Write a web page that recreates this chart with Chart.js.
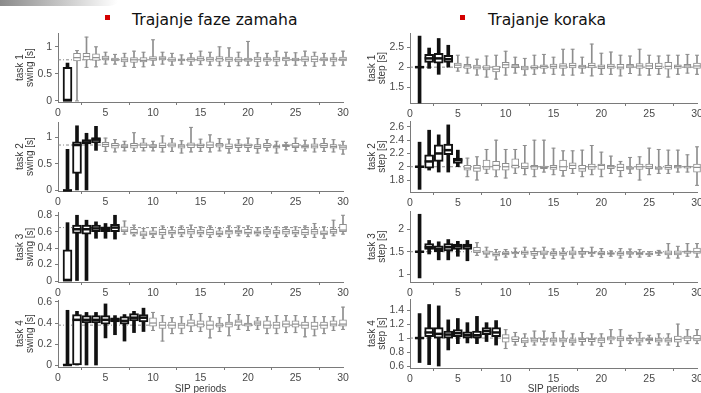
<!DOCTYPE html>
<html><head><meta charset="utf-8">
<script src="https://cdn.jsdelivr.net/npm/chart.js@4.4.0/dist/chart.umd.min.js"></script>
<style>
html,body{margin:0;padding:0;width:701px;height:393px;overflow:hidden;background:#fff;}
.cv{position:absolute;}
.title{position:absolute;font-family:"DejaVu Sans",sans-serif;font-size:15.6px;line-height:18px;color:#111;top:11px;white-space:nowrap;}
.bullet{position:absolute;width:5px;height:5px;background:#d40000;top:15px;}
.corner{position:absolute;left:0;top:0;width:118px;height:6px;background:linear-gradient(to right,#8a8a8a,#c4c4c4 50%,#eeeeee 85%,#fff);border-bottom-right-radius:10px 5px;}
</style></head><body>
<div class="corner"></div>
<div class="bullet" style="left:105px"></div>
<div class="title" style="left:132px">Trajanje faze zamaha</div>
<div class="bullet" style="left:460px"></div>
<div class="title" style="left:488px">Trajanje koraka</div>
<script>
// ---- categories ----
const periods = [1,2,3,4,5,6,7,8,9,10,11,12,13,14,15,16,17,18,19,20,21,22,23,24,25,26,27,28,29,30];
const xTicks = [0,5,10,15,20,25,30];

// ---- task 1 swing [s] ----
const sw1Lo  = [0,0,0.62,0.63,0.68,0.68,0.64,0.62,0.63,0.66,0.68,0.66,0.68,0.66,0.67,0.66,0.65,0.64,0.65,0.66,0.64,0.66,0.65,0.66,0.66,0.65,0.64,0.66,0.65,0.66];
const sw1Q1  = [0,0.74,0.76,0.75,0.76,0.74,0.72,0.71,0.72,0.75,0.76,0.73,0.74,0.73,0.74,0.73,0.73,0.73,0.72,0.73,0.72,0.73,0.73,0.74,0.74,0.73,0.72,0.74,0.73,0.74];
const sw1Med = [0.01,0.80,0.82,0.80,0.79,0.76,0.76,0.76,0.75,0.78,0.79,0.76,0.76,0.77,0.78,0.77,0.78,0.77,0.76,0.76,0.77,0.77,0.77,0.78,0.76,0.77,0.77,0.77,0.77,0.77];
const sw1Q3  = [0.62,0.88,0.88,0.87,0.83,0.79,0.80,0.80,0.80,0.82,0.82,0.80,0.78,0.80,0.82,0.81,0.82,0.81,0.80,0.79,0.81,0.80,0.81,0.81,0.79,0.82,0.83,0.80,0.80,0.81];
const sw1Hi  = [0.70,0.93,1.18,1.00,0.90,0.86,0.88,0.92,0.90,1.13,0.90,0.88,0.85,0.88,0.92,0.90,1.00,0.98,0.90,1.10,0.89,0.88,0.92,0.90,0.89,0.92,0.90,0.88,0.88,0.92];
const sw1Ref = 0.76, sw1Bold = 1, sw1Ticks = [0,0.5,1];

// ---- task 2 swing [s] ----
const sw2Lo  = [0,0,0,0.75,0.73,0.72,0.74,0.73,0.74,0.74,0.72,0.73,0.70,0.72,0.73,0.72,0.74,0.70,0.73,0.73,0.70,0.74,0.70,0.76,0.73,0.74,0.72,0.73,0.72,0.68];
const sw2Q1  = [0,0.32,0.87,0.89,0.82,0.79,0.80,0.79,0.80,0.80,0.80,0.81,0.79,0.80,0.80,0.80,0.81,0.78,0.80,0.80,0.78,0.80,0.79,0.82,0.80,0.79,0.79,0.80,0.79,0.77];
const sw2Med = [0,0.85,0.90,0.95,0.86,0.84,0.83,0.84,0.85,0.83,0.84,0.85,0.83,0.85,0.84,0.85,0.85,0.82,0.84,0.84,0.82,0.84,0.82,0.84,0.83,0.82,0.83,0.84,0.82,0.81];
const sw2Q3  = [0.01,0.91,0.95,0.99,0.90,0.88,0.86,0.88,0.89,0.86,0.89,0.89,0.86,0.89,0.87,0.91,0.88,0.87,0.87,0.87,0.86,0.88,0.84,0.86,0.88,0.85,0.87,0.88,0.86,0.85];
const sw2Hi  = [0.77,1.21,1.07,1.20,0.98,0.95,0.92,1.08,0.97,0.92,1.02,0.97,0.93,1.18,0.96,1.04,0.97,0.96,0.95,0.98,0.97,0.95,0.92,0.90,0.98,0.94,0.97,0.97,0.95,0.92];
const sw2Ref = 0.85, sw2Bold = 4, sw2Ticks = [0,0.5,1];

// ---- task 3 swing [s] ----
const sw3Lo  = [0,0,0,0.52,0.52,0.51,0.57,0.55,0.52,0.53,0.52,0.53,0.54,0.53,0.54,0.53,0.54,0.53,0.55,0.54,0.55,0.54,0.53,0.54,0.54,0.53,0.53,0.52,0.55,0.57];
const sw3Q1  = [0,0.58,0.57,0.60,0.60,0.60,0.60,0.57,0.55,0.56,0.56,0.57,0.57,0.57,0.57,0.56,0.56,0.57,0.58,0.57,0.57,0.57,0.57,0.57,0.57,0.56,0.57,0.56,0.58,0.60];
const sw3Med = [0.01,0.63,0.63,0.64,0.63,0.65,0.62,0.59,0.57,0.58,0.59,0.59,0.59,0.60,0.59,0.59,0.58,0.60,0.60,0.59,0.59,0.60,0.59,0.60,0.59,0.59,0.60,0.58,0.60,0.62];
const sw3Q3  = [0.38,0.68,0.68,0.68,0.66,0.69,0.66,0.63,0.60,0.61,0.63,0.62,0.63,0.63,0.62,0.63,0.61,0.62,0.62,0.63,0.61,0.63,0.62,0.63,0.62,0.63,0.63,0.61,0.63,0.69];
const sw3Hi  = [0.71,0.80,0.74,0.72,0.70,0.80,0.73,0.68,0.64,0.65,0.67,0.66,0.67,0.68,0.66,0.67,0.64,0.67,0.67,0.67,0.65,0.66,0.66,0.66,0.66,0.67,0.70,0.66,0.74,0.80];
const sw3Ref = 0.65, sw3Bold = 6, sw3Ticks = [0,0.2,0.4,0.6,0.8];

// ---- task 4 swing [s] ----
const sw4Lo  = [0,0,0,0,0.26,0.29,0.23,0.31,0.32,0.33,0.23,0.30,0.30,0.32,0.32,0.26,0.32,0.28,0.34,0.33,0.34,0.30,0.30,0.31,0.31,0.27,0.28,0.30,0.33,0.34];
const sw4Q1  = [0,0.005,0.40,0.40,0.39,0.41,0.39,0.42,0.41,0.37,0.35,0.35,0.35,0.37,0.36,0.34,0.36,0.36,0.38,0.37,0.38,0.35,0.35,0.36,0.36,0.35,0.34,0.35,0.37,0.37];
const sw4Med = [0.005,0.43,0.43,0.43,0.43,0.43,0.42,0.45,0.45,0.40,0.38,0.38,0.38,0.40,0.39,0.38,0.38,0.39,0.41,0.39,0.40,0.38,0.38,0.39,0.39,0.38,0.37,0.38,0.39,0.39];
const sw4Q3  = [0.01,0.48,0.47,0.47,0.47,0.45,0.46,0.49,0.48,0.45,0.41,0.41,0.40,0.43,0.42,0.42,0.40,0.41,0.43,0.40,0.42,0.42,0.41,0.42,0.42,0.41,0.41,0.41,0.42,0.43];
const sw4Hi  = [0.52,0.51,0.50,0.50,0.58,0.47,0.48,0.51,0.54,0.50,0.47,0.45,0.46,0.48,0.49,0.46,0.45,0.48,0.48,0.47,0.45,0.46,0.47,0.47,0.47,0.46,0.46,0.46,0.46,0.55];
const sw4Ref = 0.38, sw4Bold = 9, sw4Ticks = [0,0.2,0.4,0.6];

// ---- task 1 step [s] ----
const st1Lo  = [1.10,1.97,1.82,2.00,1.90,1.85,1.80,1.75,1.70,1.80,1.85,1.80,1.82,1.85,1.82,1.80,1.80,1.85,1.78,1.82,1.82,1.78,1.84,1.80,1.80,1.82,1.75,1.82,1.85,1.82];
const st1Q1  = [1.98,2.12,2.10,2.12,1.98,1.97,1.95,1.93,1.88,1.98,1.99,1.93,1.95,1.97,1.97,1.97,1.98,1.97,1.98,1.96,1.97,1.95,1.98,1.97,1.96,1.96,1.95,1.97,1.98,1.97];
const st1Med = [2.00,2.22,2.22,2.20,2.05,2.03,2.00,1.98,1.95,2.06,2.03,1.98,1.99,2.02,2.02,2.03,2.04,2.01,2.04,2.01,2.02,2.00,2.03,2.03,2.03,2.02,2.02,2.02,2.03,2.03];
const st1Q3  = [2.02,2.32,2.35,2.30,2.10,2.07,2.05,2.04,2.03,2.12,2.07,2.03,2.04,2.06,2.08,2.09,2.10,2.05,2.10,2.06,2.08,2.07,2.07,2.09,2.10,2.10,2.12,2.06,2.07,2.10];
const st1Hi  = [2.78,2.48,2.72,2.55,2.30,2.25,2.20,2.28,2.30,2.40,2.25,2.22,2.30,2.32,2.25,2.45,2.45,2.25,2.58,2.35,2.38,2.30,2.28,2.45,2.30,2.28,2.30,2.30,2.32,2.30];
const st1Ref = 2.0, st1Bold = 4, st1Ticks = [1.5,2,2.5];

// ---- task 2 step [s] ----
const st2Lo  = [1.66,1.95,1.92,1.92,2.00,1.85,1.80,1.90,1.85,1.83,1.90,1.88,1.85,1.92,1.88,1.86,1.90,1.85,1.88,1.85,1.90,1.85,1.90,1.80,1.88,1.90,1.90,1.92,1.92,1.72];
const st2Q1  = [1.99,1.98,2.08,2.18,2.05,1.95,1.93,1.96,1.95,1.95,1.98,1.97,1.96,1.97,1.96,1.94,1.97,1.93,1.96,1.96,1.97,1.94,1.96,1.96,1.97,1.96,1.96,1.98,1.98,1.92];
const st2Med = [2.00,2.08,2.20,2.25,2.10,1.98,1.98,2.00,2.02,2.00,2.02,2.00,2.00,1.99,1.99,2.00,2.02,1.97,2.00,2.02,2.00,1.99,1.98,2.00,2.00,1.98,1.99,2.00,2.00,1.99];
const st2Q3  = [2.01,2.18,2.33,2.34,2.13,2.02,2.02,2.10,2.08,2.05,2.12,2.06,2.02,2.01,2.02,2.10,2.06,2.02,2.04,2.04,2.02,2.04,2.00,2.04,2.04,2.00,2.02,2.02,2.01,2.04];
const st2Hi  = [2.37,2.55,2.48,2.63,2.25,2.13,2.15,2.26,2.40,2.26,2.26,2.32,2.40,2.40,2.28,2.24,2.24,2.25,2.32,2.22,2.16,2.08,2.14,2.15,2.28,2.26,2.25,2.25,2.18,2.30];
const st2Ref = 2.0, st2Bold = 5, st2Ticks = [1.8,2,2.2,2.4,2.6];

// ---- task 3 step [s] ----
const st3Lo  = [0.92,1.45,1.32,1.32,1.40,1.30,1.42,1.38,1.32,1.38,1.38,1.38,1.35,1.36,1.35,1.34,1.36,1.38,1.40,1.37,1.40,1.36,1.38,1.38,1.40,1.42,1.36,1.36,1.40,1.38];
const st3Q1  = [1.49,1.55,1.50,1.52,1.55,1.55,1.48,1.44,1.40,1.43,1.45,1.44,1.42,1.43,1.42,1.42,1.43,1.44,1.45,1.43,1.44,1.42,1.44,1.43,1.43,1.46,1.43,1.43,1.46,1.46];
const st3Med = [1.50,1.60,1.56,1.60,1.62,1.62,1.52,1.47,1.44,1.46,1.48,1.48,1.46,1.47,1.46,1.46,1.47,1.47,1.48,1.46,1.46,1.46,1.47,1.46,1.45,1.48,1.47,1.47,1.50,1.50];
const st3Q3  = [1.51,1.68,1.63,1.68,1.67,1.67,1.60,1.52,1.48,1.50,1.50,1.52,1.51,1.52,1.50,1.50,1.52,1.51,1.50,1.50,1.48,1.50,1.50,1.49,1.47,1.50,1.52,1.52,1.52,1.58];
const st3Hi  = [2.33,1.75,1.72,1.77,1.73,1.75,1.70,1.60,1.55,1.55,1.58,1.60,1.58,1.60,1.56,1.58,1.60,1.58,1.60,1.57,1.52,1.57,1.56,1.55,1.50,1.53,1.68,1.62,1.68,1.68];
const st3Ref = 1.5, st3Bold = 6, st3Ticks = [1,1.5,2];

// ---- task 4 step [s] ----
const st4Lo  = [0.65,0.62,0.60,0.83,0.92,0.93,0.92,0.95,0.90,0.85,0.90,0.88,0.90,0.90,0.90,0.88,0.90,0.90,0.90,0.88,0.92,0.88,0.92,0.90,0.92,0.90,0.90,0.88,0.92,0.92];
const st4Q1  = [0.99,1.02,1.00,1.00,1.02,1.00,1.00,1.05,1.02,0.94,0.95,0.93,0.94,0.94,0.94,0.94,0.93,0.95,0.95,0.93,0.97,0.96,0.96,0.94,0.96,0.94,0.94,0.94,0.96,0.96];
const st4Med = [1.00,1.08,1.06,1.05,1.07,1.04,1.04,1.10,1.08,1.00,0.98,0.96,0.97,0.98,0.97,0.97,0.96,0.98,0.98,0.97,1.00,0.99,0.99,0.97,0.98,0.97,0.97,0.98,1.00,0.99];
const st4Q3  = [1.01,1.15,1.15,1.10,1.12,1.09,1.10,1.15,1.15,1.05,1.02,1.00,1.00,1.00,1.00,1.00,0.99,1.00,1.00,1.00,1.02,1.02,1.00,1.00,1.00,1.00,1.00,1.03,1.03,1.04];
const st4Hi  = [1.35,1.48,1.46,1.26,1.28,1.22,1.31,1.22,1.25,1.12,1.08,1.06,1.10,1.10,1.08,1.10,1.06,1.08,1.06,1.06,1.12,1.12,1.04,1.08,1.04,1.06,1.06,1.20,1.12,1.12];
const st4Ref = 1.0, st4Bold = 9, st4Ticks = [0.6,0.8,1,1.2,1.4];

// ---- styling ----
const FONT = "'Liberation Sans', Arial, sans-serif";
const BLACK = '#111111', GRAY = '#8e8e8e', AXIS = '#7a7a7a', TICK = '#4a4a4a', TITLE = '#3a3a3a';

function boxPanel(o) {
  const PADT = 8, PADR = 8, YW = 58;
  const xh = o.xTitle ? 396 - o.bottom : 22;
  const h = PADT + (o.bottom - o.top) + xh;
  const cv = document.createElement('canvas');
  cv.className = 'cv';
  cv.width = o.width; cv.height = h;
  cv.style.left = o.left + 'px'; cv.style.top = (o.top - PADT) + 'px';
  cv.style.width = o.width + 'px'; cv.style.height = h + 'px';
  document.body.appendChild(cv);

  const boldIdx = [], thinIdx = [];
  periods.forEach((p, i) => (i < o.nBold ? boldIdx : thinIdx).push(i));
  const whisk = idx => idx.map(i => ({x: periods[i], y: [o.lo[i], o.hi[i]]}));
  const box = idx => idx.map(i => ({x: periods[i], y: [o.q1[i], o.q3[i]]}));
  const med = idx => idx.map(i => ({x: periods[i], y: o.med[i]}));
  const caps = idx => idx.flatMap(i => [{x: periods[i], y: o.lo[i]}, {x: periods[i], y: o.hi[i]}]);

  const tickFont = {family: FONT, size: 10.5};
  new Chart(cv, {
    type: 'bar',
    data: {datasets: [
      {type: 'line', data: [{x: xTicks[0], y: o.ref}, {x: xTicks[xTicks.length - 1], y: o.ref}],
       borderColor: '#8a8a8a', borderWidth: 1, borderDash: [3, 2, 1, 2], pointRadius: 0, order: 9},
      {type: 'bar', data: whisk(thinIdx), backgroundColor: GRAY, barThickness: 1, grouped: false, clip: false, order: 8},
      {type: 'bar', data: whisk(boldIdx), backgroundColor: BLACK, barThickness: 3, grouped: false, clip: false, order: 7},
      {type: 'bar', data: box(thinIdx), backgroundColor: '#ffffff', borderColor: GRAY, borderWidth: 1,
       borderSkipped: false, barThickness: 7, grouped: false, clip: false, order: 6},
      {type: 'bar', data: box(boldIdx), backgroundColor: '#ffffff', borderColor: BLACK, borderWidth: 2,
       borderSkipped: false, barThickness: 9, grouped: false, clip: false, order: 5},
      {type: 'line', showLine: false, data: caps(thinIdx), pointStyle: 'line', pointRadius: 2,
       pointBorderColor: GRAY, pointBorderWidth: 1, clip: false, order: 4},
      {type: 'line', showLine: false, data: med(thinIdx), pointStyle: 'line', pointRadius: 3.5,
       pointBorderColor: GRAY, pointBorderWidth: 1.2, clip: false, order: 3},
      {type: 'line', showLine: false, data: med(boldIdx), pointStyle: 'line', pointRadius: 4.5,
       pointBorderColor: BLACK, pointBorderWidth: 2.5, clip: false, order: 2}
    ]},
    options: {
      animation: false, responsive: false, maintainAspectRatio: false, events: [],
      layout: {padding: {top: PADT, right: PADR, left: 0, bottom: 0}},
      plugins: {legend: {display: false}, tooltip: {enabled: false}},
      scales: {
        x: {
          type: 'linear', min: xTicks[0], max: xTicks[xTicks.length - 1], offset: false,
          afterBuildTicks: s => { s.ticks = xTicks.map(v => ({value: v})); },
          afterFit: s => { s.height = xh; },
          grid: {drawOnChartArea: false, drawTicks: true, tickLength: 3, color: AXIS},
          border: {color: AXIS, width: 1},
          ticks: {color: TICK, font: tickFont, padding: 2, maxRotation: 0, autoSkip: false, callback: v => String(v)},
          title: o.xTitle ? {display: true, text: o.xTitle, color: TITLE, font: {family: FONT, size: 10, lineHeight: 1.2}, padding: {top: 0, bottom: 1}} : {display: false}
        },
        y: {
          type: 'linear', min: o.yMin, max: o.yMax,
          afterBuildTicks: s => { s.ticks = o.yTicks.map(v => ({value: v})); },
          afterFit: s => { s.width = YW; },
          grid: {drawOnChartArea: false, drawTicks: true, tickLength: 3, color: AXIS},
          border: {color: AXIS, width: 1},
          ticks: {color: TICK, font: tickFont, padding: 3, autoSkip: false, callback: v => String(v)},
          title: {display: true, text: o.yTitle, color: TITLE, font: {family: FONT, size: 10, lineHeight: 1.0}, padding: {top: 15, bottom: 0}}
        }
      }
    }
  });
}

const L = {left: 0, width: 351}, R = {left: 352, width: 353};
boxPanel({...L, top: 32, bottom: 102, lo: sw1Lo, q1: sw1Q1, med: sw1Med, q3: sw1Q3, hi: sw1Hi, ref: sw1Ref, nBold: sw1Bold,
  yMin: -0.02, yMax: 1.25, yTicks: sw1Ticks, yTitle: ['task 1', 'swing [s]']});
boxPanel({...L, top: 121, bottom: 191, lo: sw2Lo, q1: sw2Q1, med: sw2Med, q3: sw2Q3, hi: sw2Hi, ref: sw2Ref, nBold: sw2Bold,
  yMin: -0.01, yMax: 1.275, yTicks: sw2Ticks, yTitle: ['task 2', 'swing [s]']});
boxPanel({...L, top: 211, bottom: 282, lo: sw3Lo, q1: sw3Q1, med: sw3Med, q3: sw3Q3, hi: sw3Hi, ref: sw3Ref, nBold: sw3Bold,
  yMin: -0.012, yMax: 0.836, yTicks: sw3Ticks, yTitle: ['task 3', 'swing [s]']});
boxPanel({...L, top: 299, bottom: 367, lo: sw4Lo, q1: sw4Q1, med: sw4Med, q3: sw4Q3, hi: sw4Hi, ref: sw4Ref, nBold: sw4Bold,
  yMin: -0.014, yMax: 0.614, yTicks: sw4Ticks, yTitle: ['task 4', 'swing [s]'], xTitle: 'SIP periods'});

boxPanel({...R, top: 32, bottom: 103, lo: st1Lo, q1: st1Q1, med: st1Med, q3: st1Q3, hi: st1Hi, ref: st1Ref, nBold: st1Bold,
  yMin: 1.10, yMax: 2.85, yTicks: st1Ticks, yTitle: ['task 1', 'step [s]']});
boxPanel({...R, top: 120, bottom: 192, lo: st2Lo, q1: st2Q1, med: st2Med, q3: st2Q3, hi: st2Hi, ref: st2Ref, nBold: st2Bold,
  yMin: 1.62, yMax: 2.684, yTicks: st2Ticks, yTitle: ['task 2', 'step [s]']});
boxPanel({...R, top: 210, bottom: 282, lo: st3Lo, q1: st3Q1, med: st3Med, q3: st3Q3, hi: st3Hi, ref: st3Ref, nBold: st3Bold,
  yMin: 0.83, yMax: 2.395, yTicks: st3Ticks, yTitle: ['task 3', 'step [s]']});
boxPanel({...R, top: 298, bottom: 368, lo: st4Lo, q1: st4Q1, med: st4Med, q3: st4Q3, hi: st4Hi, ref: st4Ref, nBold: st4Bold,
  yMin: 0.572, yMax: 1.554, yTicks: st4Ticks, yTitle: ['task 4', 'step [s]'], xTitle: 'SIP periods'});
</script>
</body></html>
